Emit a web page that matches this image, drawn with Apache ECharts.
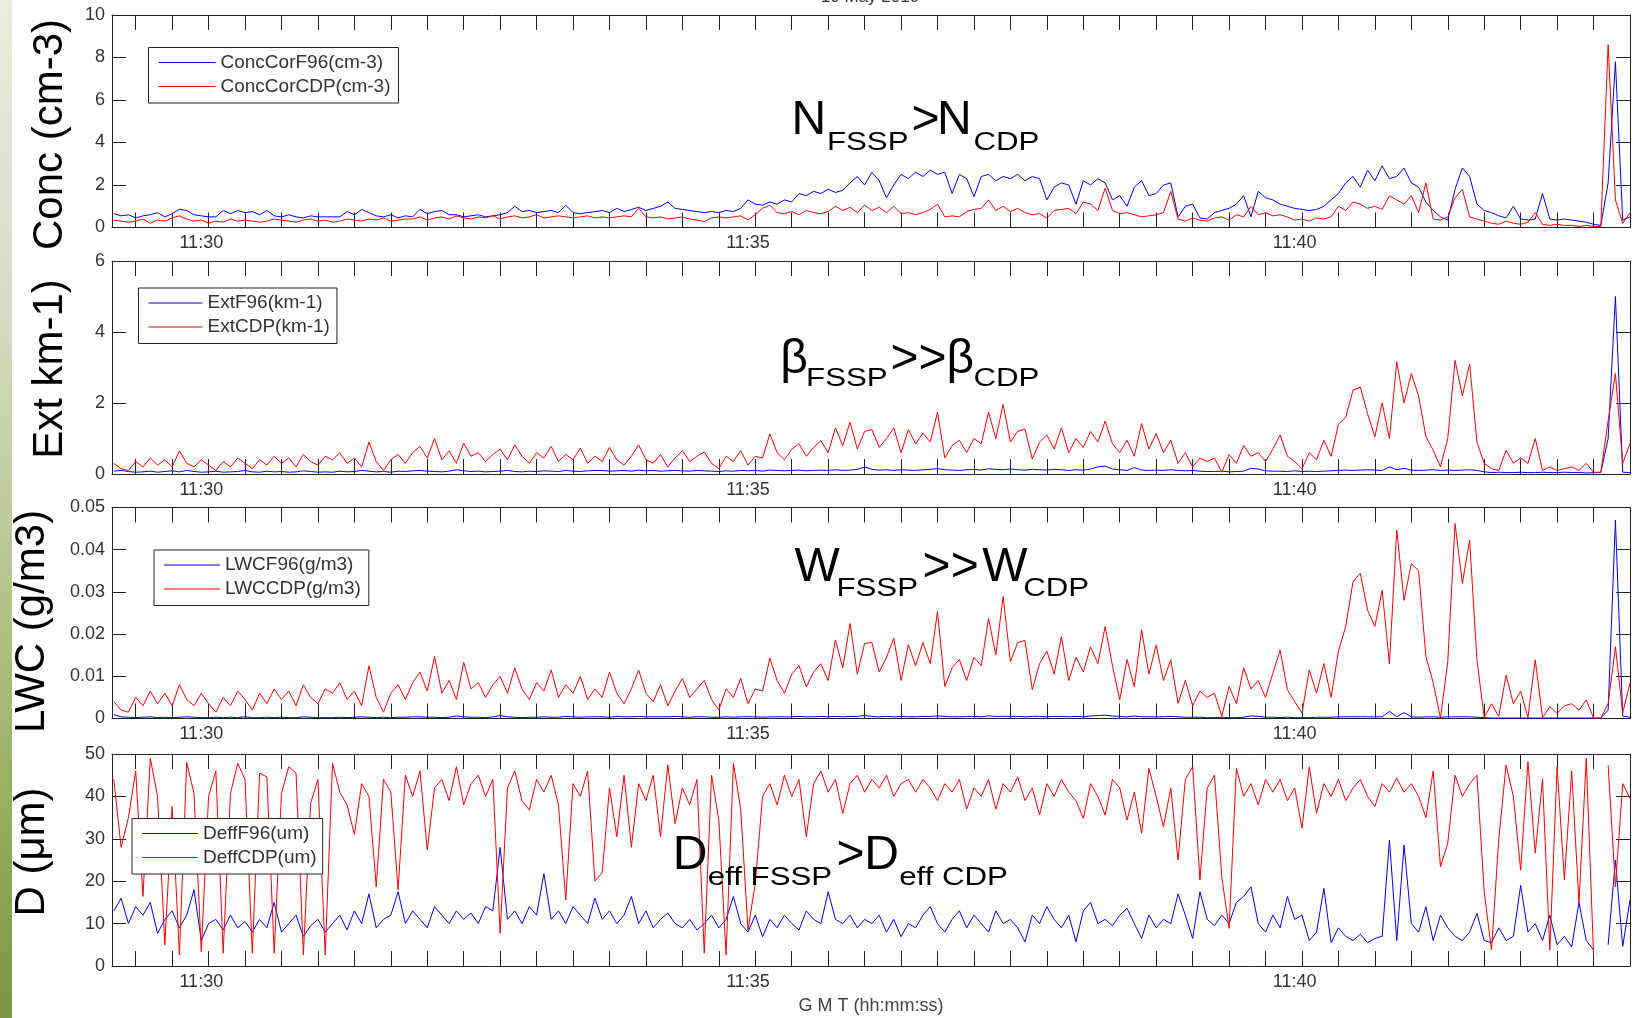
<!DOCTYPE html>
<html><head><meta charset="utf-8">
<script src="https://cdn.jsdelivr.net/npm/echarts@6/dist/echarts.min.js"></script>
<style>html,body{margin:0;padding:0;background:#fff;overflow:hidden}#c{width:1634px;height:1018px}</style>
</head><body><div id="c"></div>
<script>
// ---------- data (one sample every 4 s; time in s after 11:29:00) ----------
const T0 = 12, DT = 4;
const X_MIN = 11, X_MAX = 844;
const TIME_LABELS = ['11:30', '11:35', '11:40'];
const TIME_LABEL_SECONDS = [60, 360, 660];
const TICK_FIRST = 24, TICK_STEP = 20;
const CONC_TICKS = [0, 2, 4, 6, 8, 10];
const EXT_TICKS = [0, 2, 4, 6];
const LWC_TICKS = [0, 0.01, 0.02, 0.03, 0.04, 0.05];
const DEFF_TICKS = [0, 10, 20, 30, 40, 50];
const TITLE = '10 May 2010';

const CONC_F96 = [
0.65,0.55,0.6,0.45,0.55,0.6,0.7,0.5,0.65,0.86,
0.8,0.6,0.55,0.5,0.5,0.8,0.65,0.8,0.7,0.75,
0.6,0.8,0.55,0.5,0.6,0.5,0.45,0.55,0.5,0.5,
0.5,0.5,0.75,0.6,0.85,0.7,0.55,0.5,0.6,0.45,
0.55,0.5,0.85,0.65,0.75,0.8,0.6,0.6,0.5,0.55,
0.6,0.5,0.55,0.6,0.7,1.0,0.75,0.8,0.7,0.75,
0.8,0.7,1.05,0.7,0.65,0.7,0.75,0.8,0.7,0.9,
0.75,0.85,0.95,0.8,0.9,1.0,1.2,0.9,0.85,0.8,
0.75,0.7,0.75,0.7,0.8,0.75,0.9,1.3,1.1,1.05,
1.2,1.1,1.3,1.2,1.6,1.5,1.7,1.6,1.8,1.65,
1.75,2.1,2.4,2.0,2.6,2.2,1.4,2.0,2.5,2.3,
2.6,2.4,2.7,2.5,2.6,1.6,2.5,2.3,1.45,2.4,
2.5,2.2,2.4,2.3,2.5,2.2,2.4,2.3,1.3,1.9,
2.1,2.0,1.1,2.2,2.0,2.3,2.1,1.3,1.5,1.0,
1.9,2.2,1.5,1.6,2.0,2.1,0.5,1.0,1.1,0.45,
0.4,0.7,0.8,0.9,1.1,1.5,0.5,1.7,1.4,1.3,
1.1,1.0,0.9,0.85,0.8,0.85,1.0,1.3,1.6,2.1,
2.4,1.9,2.7,2.2,2.9,2.3,2.4,2.8,2.1,1.9,
1.2,0.8,0.5,0.35,1.8,2.8,2.4,1.1,0.8,0.7,
0.55,0.45,1.0,0.4,0.35,0.4,1.6,0.4,0.35,0.4,
0.35,0.3,0.25,0.15,0.1,2.1,7.8,0.35,0.5];

const CONC_CDP = [
0.35,0.3,0.25,0.3,0.4,0.2,0.35,0.3,0.45,0.55,
0.4,0.3,0.35,0.2,0.3,0.25,0.4,0.3,0.35,0.3,
0.25,0.3,0.4,0.35,0.3,0.25,0.35,0.4,0.3,0.35,
0.25,0.3,0.4,0.35,0.3,0.4,0.35,0.45,0.3,0.35,
0.4,0.4,0.5,0.35,0.45,0.5,0.4,0.55,0.45,0.4,
0.5,0.45,0.55,0.4,0.5,0.55,0.45,0.5,0.6,0.45,
0.5,0.55,0.5,0.45,0.5,0.55,0.45,0.5,0.45,0.5,
0.55,0.5,0.9,0.5,0.45,0.5,0.4,0.45,0.5,0.4,
0.35,0.28,0.45,0.5,0.45,0.5,0.55,0.35,0.6,0.9,
1.05,0.7,0.65,0.75,0.6,0.8,0.7,0.65,0.75,1.0,
0.8,0.95,0.7,1.05,0.8,0.95,0.7,1.0,0.65,0.7,
0.6,0.7,0.85,1.1,0.5,0.55,0.5,0.75,0.85,0.9,
1.3,0.8,1.0,0.75,0.9,0.7,0.6,0.65,0.45,0.8,
0.85,0.9,0.65,1.2,1.1,0.8,1.85,0.8,0.65,0.7,
0.6,0.5,0.55,0.6,0.7,1.7,0.4,0.3,0.45,0.35,
0.3,0.45,0.5,0.35,0.6,0.5,1.0,0.6,0.7,0.55,
0.6,0.5,0.35,0.4,0.3,0.45,0.4,0.5,1.0,0.8,
1.2,1.1,0.9,1.0,0.85,1.5,1.3,1.1,1.5,0.7,
2.1,0.4,0.35,0.5,1.4,1.8,0.5,0.4,0.3,0.2,
0.15,0.3,0.2,0.15,0.25,0.7,0.15,0.1,0.15,0.1,
0.1,0.05,0.1,0.05,0.05,8.6,1.3,0.2,0.7];

const EXT_F96 = [
0.08,0.1,0.07,0.05,0.06,0.08,0.05,0.07,0.09,0.06,
0.1,0.07,0.05,0.06,0.08,0.05,0.06,0.07,0.1,0.06,
0.05,0.08,0.06,0.07,0.05,0.06,0.09,0.07,0.05,0.06,
0.05,0.08,0.06,0.07,0.1,0.08,0.06,0.07,0.05,0.08,
0.07,0.09,0.1,0.08,0.07,0.06,0.08,0.12,0.09,0.07,
0.08,0.06,0.07,0.08,0.1,0.07,0.06,0.08,0.07,0.09,
0.08,0.07,0.1,0.08,0.07,0.09,0.1,0.1,0.08,0.09,
0.1,0.08,0.11,0.09,0.1,0.08,0.09,0.1,0.09,0.08,
0.1,0.09,0.08,0.07,0.09,0.08,0.1,0.09,0.1,0.08,
0.11,0.1,0.09,0.1,0.11,0.09,0.1,0.11,0.1,0.12,
0.1,0.11,0.13,0.2,0.13,0.11,0.12,0.1,0.12,0.11,
0.1,0.12,0.13,0.15,0.12,0.11,0.1,0.12,0.13,0.11,
0.15,0.13,0.12,0.14,0.12,0.11,0.13,0.12,0.11,0.13,
0.12,0.1,0.12,0.11,0.14,0.2,0.22,0.14,0.12,0.1,
0.18,0.11,0.1,0.11,0.1,0.12,0.1,0.09,0.1,0.08,
0.07,0.07,0.08,0.06,0.07,0.08,0.16,0.14,0.09,0.08,
0.08,0.07,0.09,0.07,0.08,0.07,0.08,0.09,0.1,0.11,
0.1,0.11,0.12,0.11,0.1,0.2,0.12,0.16,0.11,0.1,
0.11,0.12,0.1,0.11,0.1,0.11,0.12,0.1,0.06,0.04,
0.05,0.04,0.04,0.05,0.04,0.04,0.05,0.04,0.04,0.05,
0.04,0.04,0.03,0.04,0.04,1.0,5.0,0.05,0.04];

const EXT_CDP = [
0.3,0.15,0.1,0.35,0.2,0.45,0.25,0.4,0.2,0.65,
0.3,0.2,0.4,0.25,0.1,0.35,0.2,0.45,0.3,0.15,
0.4,0.25,0.5,0.3,0.45,0.2,0.55,0.35,0.25,0.5,
0.4,0.6,0.3,0.45,0.2,0.9,0.35,0.1,0.4,0.55,
0.3,0.6,0.78,0.45,1.0,0.4,0.65,0.3,0.87,0.5,
0.6,0.35,0.55,0.7,0.4,0.82,0.5,0.3,0.6,0.45,
0.78,0.35,0.55,0.4,0.73,0.3,0.5,0.35,0.75,0.4,
0.25,0.5,0.82,0.4,0.3,0.55,0.2,0.45,0.66,0.35,
0.5,0.62,0.3,0.15,0.5,0.35,0.66,0.25,0.5,0.45,
1.13,0.6,0.4,0.7,0.85,0.5,0.75,0.94,0.6,1.3,
0.8,1.46,0.7,1.2,1.25,0.75,1.0,1.3,0.6,1.25,
0.85,1.15,0.9,1.74,0.45,0.8,0.95,0.6,1.0,0.85,
1.74,1.0,1.96,0.9,1.2,1.27,0.42,0.9,1.1,0.7,
1.3,0.6,1.0,0.75,1.2,0.9,1.49,0.85,0.6,0.95,
0.5,1.42,0.7,1.14,0.6,0.95,0.3,0.6,0.2,0.45,
0.35,0.45,0.05,0.55,0.3,0.8,0.5,0.6,0.35,0.7,
1.1,0.5,0.35,0.15,0.6,0.4,0.95,0.5,1.4,1.6,
2.36,2.45,1.7,1.05,2.0,1.0,3.16,2.0,2.83,2.2,
1.05,0.67,0.2,1.0,3.2,2.2,3.1,0.9,0.3,0.15,
0.1,0.67,0.3,0.45,0.3,1.0,0.1,0.2,0.1,0.15,
0.2,0.1,0.3,0.05,0.05,1.5,2.83,0.3,0.86];

const LWC_F96 = [
0.0009,0.0004,0.0003,0.0002,0.0003,0.0004,0.0002,0.0003,0.0002,0.0003,
0.0004,0.0003,0.0002,0.0002,0.0003,0.0002,0.0003,0.0002,0.0004,0.0002,
0.0002,0.0003,0.0002,0.0003,0.0002,0.0002,0.0004,0.0003,0.0002,0.0002,
0.0002,0.0003,0.0002,0.0003,0.0004,0.0003,0.0002,0.0003,0.0002,0.0003,
0.0003,0.0004,0.0004,0.0003,0.0003,0.0002,0.0003,0.0006,0.0004,0.0003,
0.0003,0.0002,0.0004,0.0007,0.0004,0.0003,0.0002,0.0003,0.0003,0.0004,
0.0003,0.0003,0.0005,0.0004,0.0003,0.0004,0.0004,0.0004,0.0003,0.0005,
0.0004,0.0004,0.0005,0.0004,0.0004,0.0004,0.0004,0.0005,0.0004,0.0003,
0.0004,0.0004,0.0003,0.0003,0.0004,0.0003,0.0004,0.0004,0.0004,0.0003,
0.0004,0.0004,0.0004,0.0004,0.0005,0.0004,0.0004,0.0005,0.0004,0.0005,
0.0004,0.0005,0.0005,0.0007,0.0005,0.0004,0.0005,0.0004,0.0005,0.0004,
0.0004,0.0005,0.0005,0.0006,0.0005,0.0004,0.0004,0.0005,0.0005,0.0004,
0.0006,0.0005,0.0005,0.0005,0.0005,0.0004,0.0005,0.0005,0.0004,0.0005,
0.0005,0.0004,0.0005,0.0004,0.0006,0.0007,0.0008,0.0006,0.0005,0.0004,
0.0006,0.0004,0.0004,0.0004,0.0004,0.0005,0.0004,0.0003,0.0003,0.0003,
0.0002,0.0002,0.0003,0.0002,0.0002,0.0003,0.0006,0.0005,0.0003,0.0003,
0.0002,0.0003,0.0002,0.0002,0.0002,0.0003,0.0003,0.0003,0.0004,0.0004,
0.0004,0.0004,0.0004,0.0004,0.0004,0.0017,0.0004,0.0014,0.0004,0.0003,
0.0004,0.0004,0.0003,0.0004,0.0004,0.0004,0.0004,0.0003,0.0002,0.0001,
0.0001,0.0001,0.0001,0.0001,0.0001,0.0001,0.0001,0.0001,0.0001,0.0001,
0.0001,0.0001,0.0001,0.0001,0.0001,0.002,0.047,0.0006,0.0003];

const LWC_CDP = [
0.004,0.002,0.0015,0.005,0.003,0.0065,0.0035,0.006,0.003,0.008,
0.0045,0.003,0.006,0.0035,0.0015,0.005,0.003,0.0065,0.0045,0.002,
0.006,0.0035,0.007,0.0045,0.0065,0.003,0.008,0.005,0.0035,0.007,
0.006,0.0085,0.0045,0.0065,0.003,0.0125,0.005,0.0015,0.006,0.008,
0.0045,0.0085,0.011,0.0065,0.0147,0.006,0.009,0.0045,0.0133,0.007,
0.0085,0.005,0.008,0.01,0.006,0.012,0.007,0.0045,0.0085,0.0065,
0.0115,0.005,0.008,0.006,0.01,0.0045,0.007,0.005,0.011,0.006,
0.0035,0.007,0.0115,0.006,0.004,0.008,0.003,0.0065,0.0095,0.005,
0.007,0.009,0.0045,0.002,0.007,0.005,0.0095,0.0035,0.007,0.0065,
0.0143,0.009,0.006,0.0105,0.0125,0.0075,0.011,0.013,0.009,0.0186,
0.012,0.0225,0.0105,0.0178,0.018,0.011,0.0145,0.019,0.009,0.0175,
0.0125,0.018,0.013,0.0253,0.0076,0.012,0.014,0.009,0.0145,0.0125,
0.0237,0.015,0.0289,0.0135,0.018,0.0185,0.0068,0.013,0.016,0.0105,
0.0194,0.009,0.0145,0.011,0.017,0.013,0.0218,0.0125,0.0044,0.014,
0.0075,0.021,0.0105,0.0174,0.009,0.0139,0.0036,0.009,0.003,0.0065,
0.005,0.006,0.0005,0.0076,0.0035,0.012,0.007,0.009,0.005,0.0107,
0.0162,0.0068,0.004,0.0013,0.0115,0.006,0.013,0.005,0.016,0.0218,
0.0324,0.0344,0.0257,0.0218,0.0304,0.013,0.0446,0.028,0.0367,0.035,
0.0147,0.0085,0.0001,0.0135,0.0462,0.032,0.0423,0.0139,0.0002,0.0035,
0.0005,0.0103,0.0035,0.0065,0.0002,0.0139,0.0002,0.0028,0.0012,0.003,
0.0035,0.002,0.0044,0.0001,0.0001,0.0035,0.017,0.0013,0.0084];

const DEFF_F96 = [
13,16,10,14,12,15,7.7,11,13,9,
12,18,6,10,11,8.5,12,9,10.5,8,
11,9,15,8,10,12,7,9.5,11,8,
10,12,8.5,13,10,17,9,11,12,17.5,
10,13,11,9,14,12,10,13,11,12.5,
10,14,13,28,11,13,10,14,12,21.8,
11,13,10,14,12,10,16,11,13,10,
12,16.4,10,13,9,11,12.5,10,9,11,
8.5,10,12,9,11,16.4,10,8,12,6.9,
11,9,12,10,8.5,13,11,10,17.5,11,
10,12,9,11,10,12,8,11,6.9,10,
9,12,14,10,8,11,13,9,12,10,
8,13,10,11,9,5.7,12,10,14,11,
9,12,5.7,13,15,10,11,9.5,12,13.6,
10,6.5,12,9,11,10,17,12,6.5,17.5,
11,9.5,12,10,15,16.4,18.7,10,8,12,
9,16.4,11,12,6,8,18.3,5.5,9,7,
6,7.5,5.5,6.5,7,29.7,6,28.5,10,8,
14,6,12,9,7,6,8,12.4,6,5.5,
9,6,7,19,8,10,6,12,5,7,
4.5,15,6,3.8,null,5,25,4.6,15.6];

const DEFF_CDP = [
44,28,35,46,16.4,49,40,5,37.6,2.6,
48,40.7,3.4,40,46,3,40.7,47.8,44,3,
45.5,44.6,3,40.7,47,45.5,2.6,38.4,44,2.6,
47.8,41,38,31,43,40,18.7,44,41,18,
45,40,46,27.4,42,44,39,47,38,43,
45,40,44,7.7,42,46,39,36.8,44,41,
45,38,15.6,43,40,46,20,22,42,30.5,
45,28,43,39,45,30.5,47.4,33.6,42,38,
44,3,45,34.4,2.6,47.8,37,8.5,19.5,40,
43,38,45,40,44,30.5,43,46,41,44,
36,43,45,41,44,42,45,40,43,44,
41,44,42,39,43,41,44,37,42,40,
44,37,43,41,44.6,39,42,35.6,43,40,
44,41,39,34.8,43,40,35.6,44,42,34.4,
41,31.3,46.6,40,32.8,42,25,44,47,20.3,
42,45,21,8.9,46.6,40,43,38,44,41,
44,39,42,32.5,47,36,43,40,44,39,
42,44,40,37.6,43,41,44.3,41,43,40,
35,46,23.4,29,45,40,43,45,17.5,3.8,
30,47.4,40,22.6,48.2,26.6,44,3.8,47,20.3,
46,14.8,49,2.6,null,47.4,18.7,43,39.5];

// ---------- layout / style ----------
const FONT = '"Liberation Sans", Arial, Helvetica, sans-serif';
const BLUE = '#0000ff', RED = '#ff0000', AXIS = '#222', LBL = '#333';
const PANELS = [
  { top: 15,    height: 212.5, ticks: CONC_TICKS, names: ['ConcCorF96(cm-3)', 'ConcCorCDP(cm-3)'], data: [CONC_F96, CONC_CDP],
    legend: { left: 148.5, top: 47.5, itemWidth: 57, padding: [5.5, 8, 7, 10] } },
  { top: 261,   height: 213,   ticks: EXT_TICKS,  names: ['ExtF96(km-1)', 'ExtCDP(km-1)'], data: [EXT_F96, EXT_CDP],
    legend: { left: 138.5, top: 288, itemWidth: 54, padding: [5.5, 7, 7, 10] } },
  { top: 507.5, height: 211,   ticks: LWC_TICKS,  names: ['LWCF96(g/m3)', 'LWCCDP(g/m3)'], data: [LWC_F96, LWC_CDP],
    legend: { left: 154, top: 550, itemWidth: 56, padding: [5.5, 8, 7, 10] } },
  { top: 754,   height: 212,   ticks: DEFF_TICKS, names: ['DeffF96(um)', 'DeffCDP(um)'], data: [DEFF_F96, DEFF_CDP],
    legend: { left: 132, top: 818.5, itemWidth: 56, padding: [5.5, 6, 7, 10] } }
];

const minorTicks = [];
for (let s = TICK_FIRST; s <= X_MAX; s += TICK_STEP) minorTicks.push(s);

const toXY = arr => arr.map((v, k) => [T0 + k * DT, v === null ? '-' : v]);
const timeFmt = v => { const k = TIME_LABEL_SECONDS.indexOf(Math.round(v)); return k >= 0 ? TIME_LABELS[k] : ''; };

const grid = [], xAxis = [], yAxis = [], series = [], legend = [];
PANELS.forEach((p, g) => {
  grid.push({ left: 112, width: 1518, top: p.top, height: p.height, containLabel: false });
  const xBase = {
    type: 'value', gridIndex: g, min: X_MIN, max: X_MAX,
    axisLine: { show: true, onZero: false, lineStyle: { color: AXIS, width: 1 } },
    axisTick: { show: true, inside: true, length: 15, customValues: minorTicks, lineStyle: { color: AXIS, width: 1 } },
    splitLine: { show: false }
  };
  const xb = Object.assign({}, xBase, {
    position: 'bottom',
    axisLabel: { show: true, customValues: TIME_LABEL_SECONDS, formatter: timeFmt, fontSize: 18, color: LBL, fontFamily: FONT, margin: 7 }
  });
  if (g === 3) {
    Object.assign(xb, { name: 'G M T (hh:mm:ss)', nameLocation: 'middle', nameGap: 31,
      nameTextStyle: { fontSize: 18, color: '#444', fontFamily: FONT } });
  }
  xAxis.push(xb);
  xAxis.push(Object.assign({}, xBase, { position: 'top', axisLabel: { show: false } }));
  const t = p.ticks;
  const yBase = {
    type: 'value', gridIndex: g, min: t[0], max: t[t.length - 1], interval: t[1] - t[0],
    axisLine: { show: true, onZero: false, lineStyle: { color: AXIS, width: 1 } },
    axisTick: { show: true, inside: true, length: 14, lineStyle: { color: AXIS, width: 1 } },
    splitLine: { show: false }
  };
  yAxis.push(Object.assign({}, yBase, { position: 'left',
    axisLabel: { show: true, fontSize: 18, color: LBL, fontFamily: FONT, margin: 7 } }));
  yAxis.push(Object.assign({}, yBase, { position: 'right', axisLabel: { show: false } }));
  [BLUE, RED].forEach((c, s) => {
    series.push({
      name: p.names[s], type: 'line', xAxisIndex: 2 * g, yAxisIndex: 2 * g,
      data: toXY(p.data[s]), symbol: 'none', showSymbol: false, connectNulls: false,
      lineStyle: { color: c, width: 1 }, itemStyle: { color: c }, color: c,
      z: 2 + s, silent: true
    });
  });
  legend.push({
    left: p.legend.left, top: p.legend.top, orient: 'vertical', data: p.names,
    backgroundColor: '#fff', borderColor: AXIS, borderWidth: 1, borderRadius: 0,
    padding: p.legend.padding, itemGap: 5, itemWidth: p.legend.itemWidth, itemHeight: 1,
    icon: 'rect', selectedMode: false,
    textStyle: { fontSize: 19, color: LBL, fontFamily: FONT }
  });
});

// annotation pieces
function piece(x, y, text, sub) {
  return { type: 'text', x: x, y: y, scaleX: sub ? 1.2 : 1, silent: true, z: 50,
    style: { text: text, fontSize: sub ? 26 : 48, fontFamily: FONT, fill: '#000',
      align: 'left', verticalAlign: 'middle', textAlign: 'left', textVerticalAlign: 'middle' } };
}
function ytitle(x, y, text) {
  return { type: 'text', x: x, y: y, rotation: Math.PI / 2, silent: true, z: 50,
    style: { text: text, fontSize: 42, fontFamily: FONT, fill: '#000',
      align: 'center', verticalAlign: 'middle', textAlign: 'center', textVerticalAlign: 'middle' } };
}

const graphic = [
  { type: 'rect', x: 0, y: 0, shape: { width: 12, height: 1018 }, silent: true, z: -10,
    style: { fill: new echarts.graphic.LinearGradient(0, 0, 0, 1, [
      { offset: 0, color: '#e9ecdf' }, { offset: 0.3, color: '#d6dcc2' },
      { offset: 0.55, color: '#b9c693' }, { offset: 0.8, color: '#98ad5c' }, { offset: 1, color: '#7d9440' }]) } },
  { type: 'text', x: 870, y: -2.5, silent: true,
    style: { text: TITLE, fontSize: 17, fontFamily: FONT, fill: '#333', align: 'center', verticalAlign: 'middle', textAlign: 'center', textVerticalAlign: 'middle' } },
  ytitle(50, 134.5, 'Conc (cm-3)'),
  ytitle(50, 369, 'Ext km-1)'),
  ytitle(32, 621.5, 'LWC (g/m3)'),
  ytitle(32, 852, 'D (μm)'),
  // N_FSSP > N_CDP
  piece(791.4, 120.7, 'N', false), piece(827, 142.9, 'FSSP', true), piece(911.4, 120.7, '>', false),
  piece(937, 120.7, 'N', false), piece(973.4, 142.9, 'CDP', true),
  // beta
  piece(780.2, 359.7, 'β', false), piece(806.1, 379.2, 'FSSP', true), piece(890.4, 359.7, '>>', false),
  piece(946.5, 359.7, 'β', false), piece(973.4, 379.2, 'CDP', true),
  // W
  piece(794.5, 567.4, 'W', false), piece(836.5, 589.2, 'FSSP', true), piece(922.6, 567.4, '>>', false),
  piece(982.2, 567.4, 'W', false), piece(1023.2, 589.2, 'CDP', true),
  // Deff
  piece(672.7, 855.7, 'D', false), piece(707.8, 877.6, 'eff FSSP', true), piece(836.6, 855.7, '>', false),
  piece(864.2, 855.7, 'D', false), piece(899.2, 877.6, 'eff CDP', true)
];

const chart = echarts.init(document.getElementById('c'), null, { renderer: 'canvas' });
chart.setOption({
  animation: false,
  backgroundColor: '#fff',
  textStyle: { fontFamily: FONT },
  grid: grid, xAxis: xAxis, yAxis: yAxis, series: series, legend: legend, graphic: graphic
});
</script></body></html>
